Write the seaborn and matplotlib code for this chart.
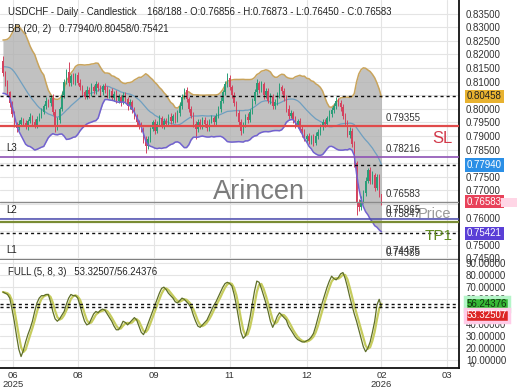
import numpy as np
import pandas as pd
import matplotlib
matplotlib.use("Agg")
import matplotlib.pyplot as plt
import matplotlib.transforms as mtransforms
from matplotlib.patches import Rectangle
import seaborn as sns

# ---- data ----
# closes before the visible window, only used to warm up the 20-bar bands
warmup_closes = [0.8105, 0.8080, 0.8065, 0.8095, 0.8135, 0.8170, 0.8205, 0.8230, 0.8215, 0.8195,
                 0.8225, 0.8210, 0.8175, 0.8145, 0.8180, 0.8155, 0.8125, 0.8095, 0.8160]
first_open = 0.8175
closes = [
    0.8132, 0.8095, 0.8060, 0.8020, 0.7980, 0.7945, 0.7930, 0.7945, 0.7960, 0.7948,
    0.7935, 0.7955, 0.7970, 0.7950, 0.7940, 0.7962, 0.7975, 0.7990, 0.8010, 0.8030,
    0.8020, 0.8040, 0.7990, 0.7932, 0.7960, 0.8000, 0.8050, 0.8100, 0.8135, 0.8095,
    0.8120, 0.8100, 0.8125, 0.8095, 0.8080, 0.8060, 0.8045, 0.8070, 0.8055, 0.8080,
    0.8065, 0.8090, 0.8075, 0.8060, 0.8085, 0.8070, 0.8050, 0.8065, 0.8040, 0.8055,
    0.8030, 0.8045, 0.8025, 0.8050, 0.8035, 0.8010, 0.8025, 0.7995, 0.7970, 0.7950,
    0.7938, 0.7925, 0.7885, 0.7862, 0.7890, 0.7925, 0.7950, 0.7920, 0.7945, 0.7965,
    0.7940, 0.7955, 0.7945, 0.7970, 0.7955, 0.7975, 0.7960, 0.7985, 0.8010, 0.8045,
    0.8068, 0.8035, 0.8000, 0.7975, 0.7945, 0.7925, 0.7950, 0.7935, 0.7960, 0.7945,
    0.7930, 0.7955, 0.7965, 0.7950, 0.7975, 0.8000, 0.8030, 0.8060, 0.8090, 0.8115,
    0.8080, 0.8050, 0.8020, 0.7985, 0.7950, 0.7920, 0.7945, 0.7970, 0.7960, 0.7990,
    0.8030, 0.8060, 0.8095, 0.8070, 0.8090, 0.8050, 0.8065, 0.8030, 0.8045, 0.8010,
    0.8025, 0.8050, 0.8080, 0.8065, 0.8040, 0.8000, 0.7975, 0.7985, 0.7960, 0.7940,
    0.7955, 0.7925, 0.7910, 0.7890, 0.7900, 0.7880, 0.7895, 0.7875, 0.7900, 0.7915,
    0.7935, 0.7950, 0.7945, 0.7965, 0.7980, 0.7995, 0.8010, 0.8030, 0.8020, 0.8005,
    0.7975, 0.7950, 0.7905, 0.7920, 0.7870, 0.7800, 0.7655, 0.7640, 0.7665, 0.7690,
    0.7735, 0.7775, 0.7735, 0.7755, 0.7710, 0.7750, 0.76856, 0.76583,
]
# wick lengths in pips above / below the body
up_wick = [
    20, 8, 10, 6, 9, 12, 8, 15, 10, 7,
    12, 9, 14, 6, 11, 10, 8, 13, 9, 12,
    7, 10, 15, 9, 11, 8, 14, 10, 12, 37,
    9, 13, 8, 11, 15, 7, 10, 12, 9, 14,
    8, 11, 10, 13, 7, 9, 12, 8, 10, 11,
    14, 9, 7, 12, 10, 8, 11, 9, 13, 10,
    8, 12, 9, 14, 11, 7, 10, 13, 9, 12,
    8, 11, 10, 9, 13, 7, 12, 10, 15, 11,
    9, 13, 8, 10, 12, 9, 11, 14, 8, 10,
    12, 9, 13, 7, 11, 10, 14, 9, 12, 16,
    10, 8, 13, 9, 11, 12, 8, 10, 14, 9,
    11, 13, 15, 9, 12, 8, 10, 11, 13, 9,
    12, 10, 14, 8, 11, 9, 13, 10, 8, 12,
    9, 11, 10, 14, 8, 12, 9, 11, 13, 10,
    8, 12, 11, 9, 14, 10, 12, 15, 9, 11,
    13, 10, 9, 12, 11, 10, 8, 12, 14, 10,
    13, 9, 11, 16, 10, 12, 9, 1.7,
]
dn_wick = [
    10, 12, 8, 14, 9, 11, 15, 8, 10, 12,
    9, 13, 7, 11, 10, 12, 8, 9, 11, 10,
    13, 8, 12, 16, 9, 11, 8, 10, 9, 12,
    10, 9, 13, 8, 11, 12, 10, 9, 14, 8,
    11, 10, 9, 12, 8, 13, 10, 11, 9, 12,
    10, 8, 13, 9, 11, 14, 10, 12, 9, 11,
    13, 10, 12, 24, 9, 11, 8, 12, 10, 9,
    11, 13, 9, 10, 12, 8, 11, 9, 10, 12,
    9, 11, 13, 10, 12, 37, 9, 11, 10, 13,
    10, 12, 9, 11, 8, 10, 12, 9, 11, 10,
    12, 9, 11, 13, 10, 18, 9, 11, 12, 10,
    9, 11, 10, 12, 8, 13, 10, 9, 12, 11,
    10, 12, 9, 11, 13, 10, 12, 9, 11, 10,
    12, 10, 13, 9, 14, 11, 10, 12, 9, 11,
    10, 12, 11, 9, 10, 12, 11, 9, 10, 12,
    11, 13, 10, 12, 11, 14, 45, 16, 12, 10,
    11, 9, 13, 10, 12, 10, 11, 13.3,
]
# full stochastic %K (5, 8)
stoch_k = [
    66, 65, 64, 61, 52, 42, 30, 19, 13, 18,
    25, 31, 36, 42, 50, 57, 61, 63, 63, 64,
    64, 58, 50, 44, 42, 44, 47, 50, 56, 61,
    64, 63, 63, 61, 55, 48, 42, 39, 40, 44,
    48, 50, 49, 51, 52, 51, 48, 45, 42, 38,
    35, 35, 38, 42, 41, 39, 41, 43, 45, 43,
    38, 33, 31, 35, 40, 45, 50, 55, 60, 65,
    69, 70, 68, 65, 63, 61, 58, 57, 59, 61,
    60, 58, 56, 53, 47, 42, 38, 37, 39, 41,
    43, 47, 51, 55, 58, 62, 66, 70, 73, 74,
    73, 71, 64, 55, 44, 33, 28, 30, 36, 45,
    56, 67, 75, 74, 69, 63, 57, 50, 42, 37,
    41, 46, 49, 47, 45, 43, 38, 35, 32, 29,
    27, 26, 25, 25, 26, 27, 29, 32, 38, 45,
    52, 58, 64, 70, 75, 79, 77, 76, 78, 81,
    82, 77, 70, 62, 55, 48, 42, 35, 28, 21,
    17, 20, 25, 33, 42, 55.4, 60, 53.32507,
]

tick_pos = [4.5, 33, 66.5, 100, 134, 167, 196]
tick_labels = ["06\n2025", "08", "09", "11", "12", "02\n2026", "03"]

level_values = [0.79355, 0.78216, 0.76583, 0.75965, 0.75847]
level_colors = ["#e04a4a", "#8e52b4", "#8a8a8a", "#4b4bb0", "#7a8c34"]
level_widths = [1.6, 1.2, 1.0, 1.1, 1.6]
label_only_values = [0.74475, 0.74385]

bb_mid, bb_up, bb_lo = 0.77940, 0.80458, 0.75421
k_last, d_last = 53.32507, 56.24376
ohlc_text = "168/188 - O:0.76856 - H:0.76873 - L:0.76450 - C:0.76583"

# ---- derived series ----
n = len(closes)
idx = np.arange(n)
opens = np.array([first_open] + closes[:-1])
close_arr = np.array(closes)
highs = np.maximum(opens, close_arr) + np.array(up_wick) / 1e4
lows = np.minimum(opens, close_arr) - np.array(dn_wick) / 1e4

all_close = pd.Series(warmup_closes + closes)
roll = all_close.rolling(20)
mid = roll.mean().iloc[len(warmup_closes):].to_numpy()
sd = roll.std(ddof=0).iloc[len(warmup_closes):].to_numpy()
bands = pd.DataFrame({"bar": idx, "mid": mid, "upper": mid + 2 * sd, "lower": mid - 2 * sd})

stoch = pd.DataFrame({"bar": idx, "k": stoch_k})
stoch["d"] = stoch["k"].rolling(3, min_periods=1).mean()

# ---- figure ----
sns.set_theme(style="white")
plt.rcParams["font.family"] = ["Liberation Sans", "DejaVu Sans"]

W, H = 520, 390
fig = plt.figure(figsize=(W / 100, H / 100), dpi=100)
ax = fig.add_axes([0, 1 - 260 / H, 459 / W, 260 / H])
ax2 = fig.add_axes([0, 1 - 368 / H, 459 / W, 108 / H])

xlim = (-1.3, 201.2)
for a in (ax, ax2):
    a.set_xlim(*xlim)
    a.set_xticks(tick_pos)
    a.grid(True, color="#e4e4e4", lw=0.8, zorder=0)
    a.set_axisbelow(True)
    a.yaxis.tick_right()
    a.tick_params(axis="y", length=0, pad=5, labelsize=7, colors="#333333")
    a.tick_params(axis="x", length=0, pad=2, labelsize=6.8, colors="#333333")
    a.spines["left"].set_visible(False)
    a.spines["right"].set_color("#111111")
    a.spines["right"].set_linewidth(1.3)

ax.spines["top"].set_visible(False)
ax.spines["bottom"].set_color("#666666")
ax.spines["bottom"].set_linewidth(1.2)
ax2.spines["top"].set_visible(False)
ax2.spines["bottom"].set_color("#111111")
ax2.spines["bottom"].set_linewidth(1.3)
ax.tick_params(axis="x", labelbottom=False)
ax2.set_xticklabels(tick_labels, linespacing=1.0)

# main panel
ax.set_ylim(0.7444, 0.8400)
ax.set_yticks(np.arange(0.745, 0.8351, 0.005))
ax.yaxis.set_major_formatter(matplotlib.ticker.FormatStrFormatter("%.5f"))

ax.fill_between(bands["bar"], bands["lower"], bands["upper"], color="#b0b0b0", alpha=0.78, lw=0, zorder=1)
sns.lineplot(data=bands, x="bar", y="upper", ax=ax, color="#c9a45c", lw=1.1, zorder=2)
sns.lineplot(data=bands, x="bar", y="mid", ax=ax, color="#6f9fc0", lw=0.9, zorder=2)

up_color, dn_color = "#2a9d78", "#d4435e"
colors = np.where(close_arr >= opens, up_color, dn_color)
ax.vlines(idx, lows, highs, colors=colors, lw=0.7, zorder=3)
ax.bar(idx, np.maximum(np.abs(close_arr - opens), 0.00012), bottom=np.minimum(opens, close_arr),
       width=0.62, color=colors, lw=0, zorder=3)
sns.lineplot(data=bands, x="bar", y="lower", ax=ax, color="#7262d0", lw=1.1, zorder=3.5)

for v in (bb_up, bb_mid, bb_lo):
    ax.axhline(v, color="#111111", lw=1.0, ls=(0, (2.2, 2.2)), zorder=4)
for v, c, w in zip(level_values, level_colors, level_widths):
    ax.axhline(v, color=c, lw=w, zorder=4)

lab_x = 386 / 459
for v in level_values + label_only_values:
    ax.annotate(f"{v:.5f}", xy=(lab_x, v), xycoords=("axes fraction", "data"),
                xytext=(0, 2.2), textcoords="offset points", ha="left", va="bottom",
                fontsize=7, color="#333333", zorder=6)

def ax_text(px, py, s, **kw):
    ax.text(px / 459, 1 - py / 260, s, transform=ax.transAxes, **kw)

ax_text(213, 192, "Arincen", fontsize=19.5, color="#7b7b7b", ha="left", va="center", zorder=5)
ax_text(418, 214, "Price", fontsize=10.5, color="#9a9a9a", ha="left", va="center", zorder=5)
ax_text(453, 139, "SL", fontsize=12, color="#d2394a", ha="right", va="center", zorder=6)
ax_text(453, 236, "TP1", fontsize=11, color="#5f8a1e", ha="right", va="center", zorder=6)
for txt, py in (("L3", 148), ("L2", 210), ("L1", 250)):
    ax_text(6, py, txt, fontsize=7, color="#222222", ha="left", va="center", zorder=6)

# lower panel: full stochastic
ax2.set_ylim(3.6, 92.3)
ax2.set_yticks(np.arange(10, 91, 10))
ax2.yaxis.set_major_formatter(matplotlib.ticker.FormatStrFormatter("%.5f"))
sns.lineplot(data=stoch, x="bar", y="d", ax=ax2, color="#c6cc5e", lw=1.6, zorder=3)
sns.lineplot(data=stoch, x="bar", y="k", ax=ax2, color="#5e6e28", lw=0.9, zorder=3.2)
for v in (d_last, k_last):
    ax2.axhline(v, color="#111111", lw=1.0, ls=(0, (2.2, 2.2)), zorder=4)
ax2.text(1 + 11 / 459, 6.0, "0", transform=mtransforms.blended_transform_factory(ax2.transAxes, ax2.transData),
         fontsize=6, color="#333333", ha="left", va="center")

for a in (ax, ax2):
    a.set_xlabel("")
    a.set_ylabel("")

# value boxes on the price scale
def value_box(a, y, s, fc, tc, halo=None, dy=0.0):
    tr = mtransforms.blended_transform_factory(a.transAxes, a.transData)
    a.text(1 + 8 / 459, y + dy, s, transform=tr, ha="left", va="center", fontsize=7, color=tc,
           zorder=10, clip_on=False,
           bbox=dict(boxstyle="square,pad=0.18", fc=fc, ec=halo if halo else fc, lw=2.5 if halo else 0))

value_box(ax, bb_up, f"{bb_up:.5f}", "#e8b230", "#222222")
value_box(ax, bb_mid, f"{bb_mid:.5f}", "#2b8fe6", "white")
value_box(ax, 0.76583, "0.76583", "#e8425a", "white")
value_box(ax, bb_lo, f"{bb_lo:.5f}", "#5a3fd6", "white")
value_box(ax2, d_last, f"{d_last:.5f}", "#36b836", "#113311", halo="#b4f5c8")
value_box(ax2, k_last, f"{k_last:.5f}", "#dc2424", "white", halo="#ffcce8", dy=-6.5)

fig.patches.append(Rectangle((501 / W, 1 - 207 / H), 16 / W, 9 / H, transform=fig.transFigure,
                             fc="#ffd6e6", ec="none", zorder=1))

# header text
fig.text(8 / W, 1 - 12 / H, "USDCHF - Daily - Candlestick    " + ohlc_text,
         fontsize=6.9, color="#222222", ha="left", va="center")
fig.text(8 / W, 1 - 29 / H, f"BB (20, 2)   {bb_mid:.5f}/{bb_up:.5f}/{bb_lo:.5f}",
         fontsize=6.9, color="#222222", ha="left", va="center")
fig.text(8 / W, 1 - 272 / H, f"FULL (5, 8, 3)   {k_last:.5f}/{d_last:.5f}",
         fontsize=6.9, color="#222222", ha="left", va="center")

fig.savefig("out.png", dpi=100)
